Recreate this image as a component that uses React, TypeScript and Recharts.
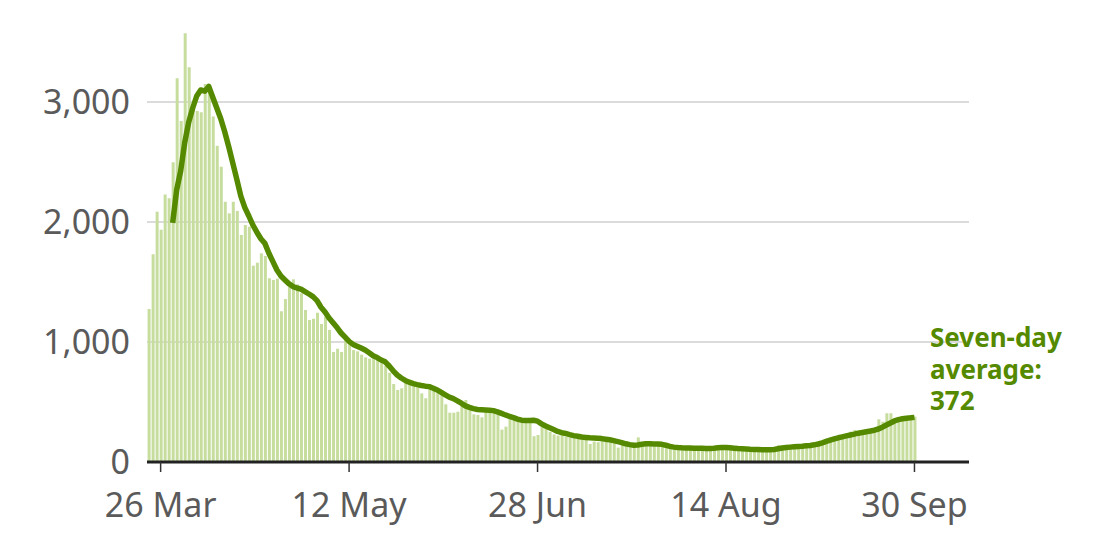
import { ComposedChart, Bar, Line, XAxis, YAxis, CartesianGrid } from 'recharts'

// daily cases, 23 Mar -> 30 Sep (one value per day)
const DAILY_CASES = [
  1275, 1731, 2086, 1936, 2230, 2197, 2497, 3197, 2842, 3572,
  3289, 2950, 2925, 2914, 3150, 3120, 2880, 2636, 2461, 2169,
  2072, 2169, 2092, 1892, 1975, 1961, 1636, 1661, 1739, 1717,
  1531, 1517, 1528, 1256, 1358, 1461, 1522, 1480, 1406, 1267,
  1183, 1194, 1244, 1150, 1211, 1100, 917, 944, 917, 1017,
  983, 933, 922, 894, 872, 861, 880, 861, 850, 800,
  744, 650, 600, 614, 689, 669, 650, 623, 572, 531,
  606, 606, 600, 572, 481, 411, 411, 419, 467, 517,
  439, 397, 392, 372, 440, 430, 440, 400, 270, 295,
  380, 370, 375, 350, 360, 340, 215, 225, 330, 300,
  250, 230, 220, 230, 210, 205, 210, 200, 195, 200,
  150, 170, 165, 190, 185, 170, 160, 120, 145, 150,
  140, 135, 205, 150, 140, 150, 130, 145, 140, 120,
  110, 120, 115, 120, 110, 105, 120, 115, 110, 105,
  115, 120, 110, 105, 130, 115, 100, 105, 110, 95,
  100, 110, 90, 100, 105, 110, 95, 140, 115, 120,
  130, 125, 120, 135, 125, 140, 160, 165, 175, 195,
  206, 211, 217, 225, 239, 253, 267, 261, 261, 258,
  267, 281, 356, 336, 406, 406, 364, 356, 350, 356,
  350, 378,
]

// seven-day average, starts on the 7th day (29 Mar)
const AVG_START = 6
const SEVEN_DAY_AVG = [
  1993, 2268, 2426, 2660,
  2832, 2950, 3050, 3100, 3090, 3130, 3040, 2950, 2860, 2750,
  2625, 2490, 2355, 2215, 2120, 2050, 1975, 1915, 1860, 1822,
  1740, 1670, 1600, 1550, 1517, 1485, 1462, 1450, 1440, 1420,
  1400, 1378, 1345, 1290, 1250, 1200, 1160, 1120, 1075, 1040,
  1005, 980, 965, 950, 933, 910, 885, 870, 850, 835,
  800, 760, 725, 700, 680, 665, 653, 645, 638, 632,
  628, 615, 600, 580, 560, 540, 528, 510, 490, 468,
  455, 445, 438, 436, 434, 432, 428, 418, 405, 392,
  380, 370, 358, 348, 345, 345, 348, 340, 318, 300,
  285, 270, 255, 245, 238, 228, 220, 215, 208, 205,
  202, 200, 198, 195, 190, 185, 178, 170, 162, 152,
  145, 140, 142, 148, 152, 152, 150, 150, 147, 140,
  130, 124, 120, 118, 117, 116, 115, 114, 114, 113,
  113, 114, 118, 120, 120, 118, 115, 112, 110, 108,
  106, 105, 104, 103, 102, 102, 104, 110, 116, 120,
  124, 127, 130, 132, 135, 138, 143, 150, 160, 172,
  182, 192, 202, 210, 218, 225, 232, 240, 246, 252,
  258, 265, 275, 290, 308, 325, 342, 353, 360, 365,
  368, 372,
]

const TICK_DAYS = [3, 50, 97, 144, 191]
const TICK_LABELS = ['26 Mar', '12 May', '28 Jun', '14 Aug', '30 Sep']
const Y_TICKS = [0, 1000, 2000, 3000]
const LABEL_LINES = ['Seven-day', 'average:', '372']

const GREEN = '#558a00'
const BAR_GREEN = '#c6dd9e'
const GREY = '#5a5a5a'
const FONT = '"Noto Sans", sans-serif'

export default function App() {
  const data = DAILY_CASES.map((cases, day) => ({
    day,
    cases,
    avg: day >= AVG_START ? SEVEN_DAY_AVG[day - AVG_START] : null,
  }))

  return (
    <div
      style={{
        position: 'absolute',
        left: 0,
        top: 0,
        width: 1100,
        height: 545,
        background: '#fff',
        fontFamily: FONT,
      }}
    >
      <ComposedChart
        width={1100}
        height={545}
        data={data}
        margin={{ top: 30, right: 131, bottom: 0, left: 0 }}
      >
        <XAxis
          dataKey="day"
          type="number"
          domain={[-0.4, 204.6]}
          allowDataOverflow
          ticks={TICK_DAYS}
          interval={0}
          tickFormatter={(d: number) => TICK_LABELS[TICK_DAYS.indexOf(d)]}
          height={83}
          axisLine={{ stroke: '#222', strokeWidth: 3 }}
          tickLine={{ stroke: '#333', strokeWidth: 1.5 }}
          tickSize={10}
          tickMargin={21}
          tick={{ fill: GREY, fontSize: 34, fontFamily: FONT }}
        />
        <YAxis
          type="number"
          domain={[0, 3600]}
          ticks={Y_TICKS}
          interval={0}
          width={147}
          axisLine={false}
          tickLine={false}
          tickSize={0}
          tickMargin={17}
          tick={{ fill: GREY, fontSize: 34, fontFamily: FONT }}
          tickFormatter={(v: number) => v.toLocaleString('en-US')}
        />
        <Bar dataKey="cases" fill={BAR_GREEN} barSize={3} isAnimationActive={false} />
        <CartesianGrid
          vertical={false}
          horizontalValues={Y_TICKS}
          stroke="#cfcfcf"
          strokeWidth={1.5}
        />
        <Line
          dataKey="avg"
          type="linear"
          stroke={GREEN}
          strokeWidth={5.5}
          strokeLinejoin="round"
          dot={false}
          activeDot={false}
          isAnimationActive={false}
        />
      </ComposedChart>
      <svg
        width={1100}
        height={545}
        style={{ position: 'absolute', left: 0, top: 0, pointerEvents: 'none' }}
      >
        {LABEL_LINES.map((line, i) => (
          <text
            key={line}
            x={930}
            y={347 + i * 31.7}
            fill={GREEN}
            fontSize={26}
            fontWeight={700}
            fontFamily={FONT}
          >
            {line}
          </text>
        ))}
      </svg>
    </div>
  )
}
